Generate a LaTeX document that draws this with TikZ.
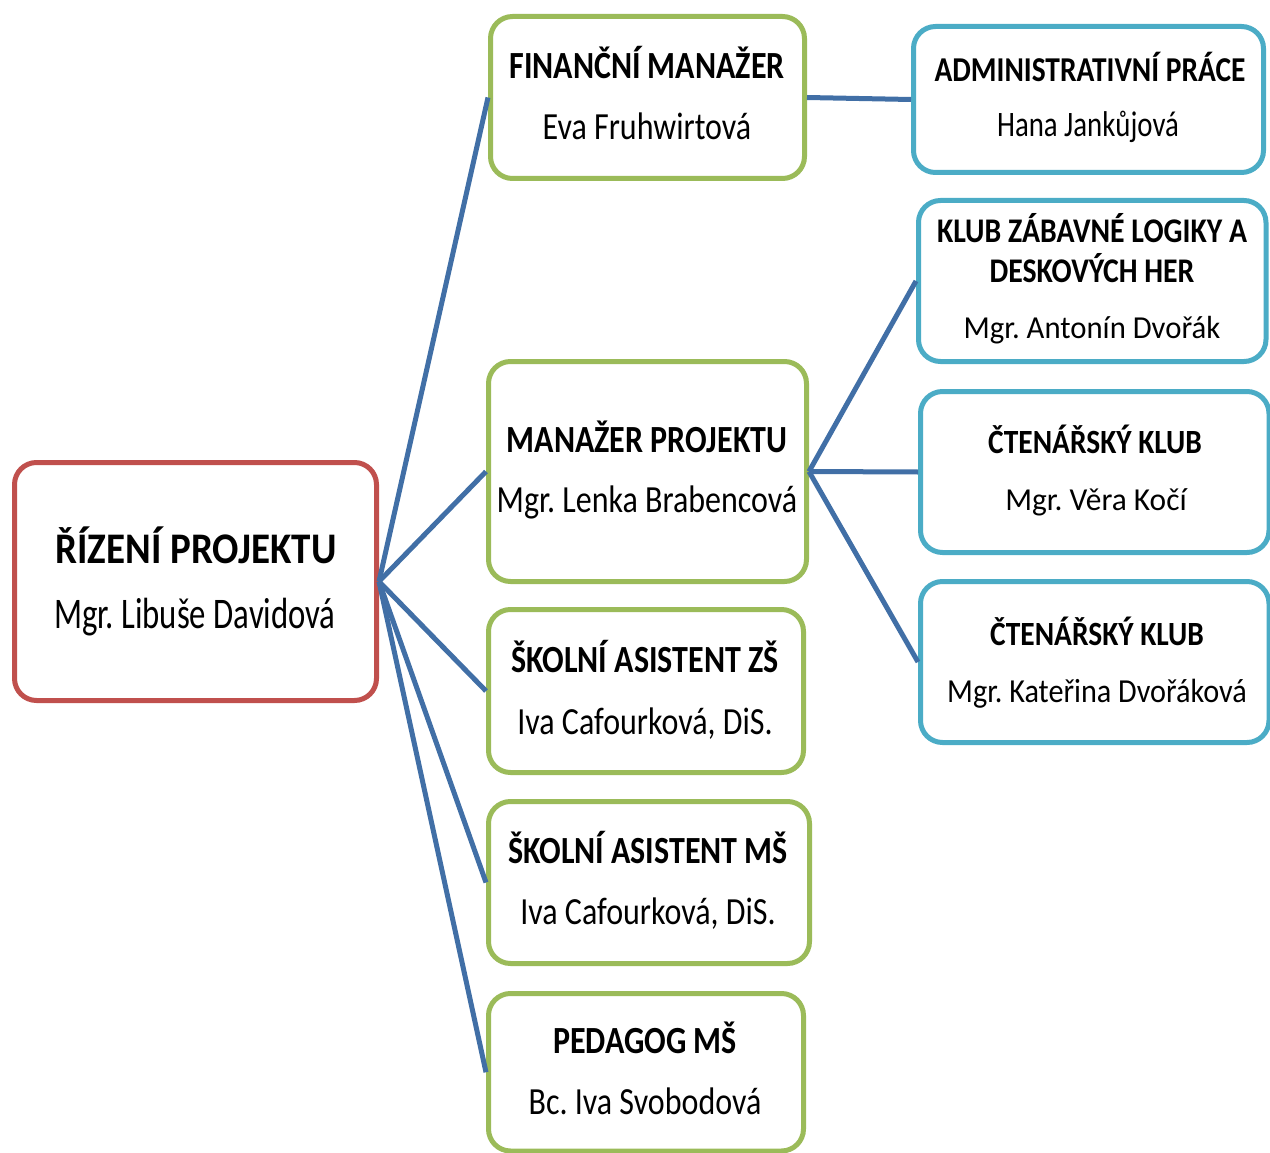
\documentclass[tikz,border=0pt]{standalone}
\usepackage{fontspec}
\setmainfont{Carlito}
\frenchspacing
\definecolor{rd}{HTML}{C0504D}
\definecolor{gr}{HTML}{9BBB59}
\definecolor{cy}{HTML}{4BACC6}
\definecolor{ln}{HTML}{416FA6}
\newcommand\vs[1]{\scalebox{1}[1.2]{#1}}
\newcommand\bxx[6]{\node[bx,draw=#6,minimum width={#4-#2},minimum height={#5-#3}] (#1) at ({(#2+#4)/2},{(#3+#5)/2}) {};}
\begin{document}
\begin{tikzpicture}[x=1pt,y=-1pt,
  bx/.style={rectangle, rounded corners=22pt, line width=5pt, fill=white, inner sep=0pt},
  tt/.style={font=\bfseries\fontsize{32}{36}\selectfont, inner sep=0pt, anchor=base},
  nm/.style={font=\fontsize{32}{36}\selectfont, inner sep=0pt, anchor=base},
  rtt/.style={font=\bfseries\fontsize{39}{44}\selectfont, inner sep=0pt, anchor=base},
  rnm/.style={font=\fontsize{39}{44}\selectfont, inner sep=0pt, anchor=base},
  con/.style={draw=ln, line width=5pt}]
\useasboundingbox (0,0) rectangle (1270,1153);
\clip (0,0) rectangle (1270,1153);
% boxes
\bxx{root}{14.5}{462.5}{376.5}{700.5}{rd}
\bxx{fin}{490.5}{16.5}{804.5}{178.5}{gr}
\bxx{man}{488.5}{361.5}{806.5}{581.5}{gr}
\bxx{zs}{488.5}{609.5}{803.5}{772.5}{gr}
\bxx{ms}{488.5}{801.5}{809.5}{963.5}{gr}
\bxx{ped}{488.5}{993.5}{803.5}{1151}{gr}
\bxx{adm}{913.5}{26.5}{1263.5}{172.5}{cy}
\bxx{klub}{918.5}{200.5}{1266}{361.5}{cy}
\bxx{ct1}{920.5}{391.5}{1269}{552.5}{cy}
\bxx{ct2}{920.5}{581.5}{1269}{742.5}{cy}
% connectors
\foreach \t in {fin,man,zs,ms,ped} \draw[con] (root.east) -- (\t.west);
\draw[con] (fin.east) -- (adm.west);
\foreach \t in {klub,ct1,ct2} \draw[con] (man.east) -- (\t.west);
% texts
\node[rtt] (t-root) at (196,563) {\scalebox{1}[1.12]{ŘÍZENÍ PROJEKTU}};
\node[rnm] (n-root) at (195,628) {\scalebox{0.84}[1.12]{Mgr. Libuše Davidová}};
\node[tt] (t-fin) at (647,79) {\vs{FINANČNÍ MANAŽER}};
\node[nm] (n-fin) at (647,140) {\vs{Eva Fruhwirtová}};
\node[tt] (t-man) at (647,452) {\vs{MANAŽER PROJEKTU}};
\node[nm] (n-man) at (647,512) {\vs{Mgr. Lenka Brabencová}};
\node[tt] (t-zs) at (645,672) {\vs{ŠKOLNÍ ASISTENT ZŠ}};
\node[nm] (n-zs) at (645,734) {\vs{Iva Cafourková, DiS.}};
\node[tt] (t-ms) at (648,863) {\vs{ŠKOLNÍ ASISTENT MŠ}};
\node[nm] (n-ms) at (648,924) {\vs{Iva Cafourková, DiS.}};
\node[tt] (t-ped) at (645,1053) {\vs{PEDAGOG MŠ}};
\node[nm] (n-ped) at (645,1114) {\vs{Bc. Iva Svobodová}};
\node[tt] (t-adm) at (1090,82) {\scalebox{0.92}[1.09]{ADMINISTRATIVNÍ PRÁCE}};
\node[nm] (n-adm) at (1088,137) {\scalebox{0.9}[1.12]{Hana Jankůjová}};
\node[tt] (t-klub1) at (1092,243) {\scalebox{0.93}[1.08]{KLUB ZÁBAVNÉ LOGIKY A}};
\node[tt] (t-klub2) at (1092,282) {\scalebox{0.93}[1.08]{DESKOVÝCH HER}};
\node[nm] (n-klub) at (1092,338) {\scalebox{0.96}[1.0]{Mgr. Antonín Dvořák}};
\node[tt] (t-ct1) at (1095,453) {\scalebox{0.92}[1.06]{ČTENÁŘSKÝ KLUB}};
\node[nm] (n-ct1) at (1096,510) {\scalebox{0.98}[1.0]{Mgr. Věra Kočí}};
\node[tt] (t-ct2) at (1097,645) {\scalebox{0.92}[1.06]{ČTENÁŘSKÝ KLUB}};
\node[nm] (n-ct2) at (1097,702) {\scalebox{0.945}[1.05]{Mgr. Kateřina Dvořáková}};
\end{tikzpicture}
\end{document}
